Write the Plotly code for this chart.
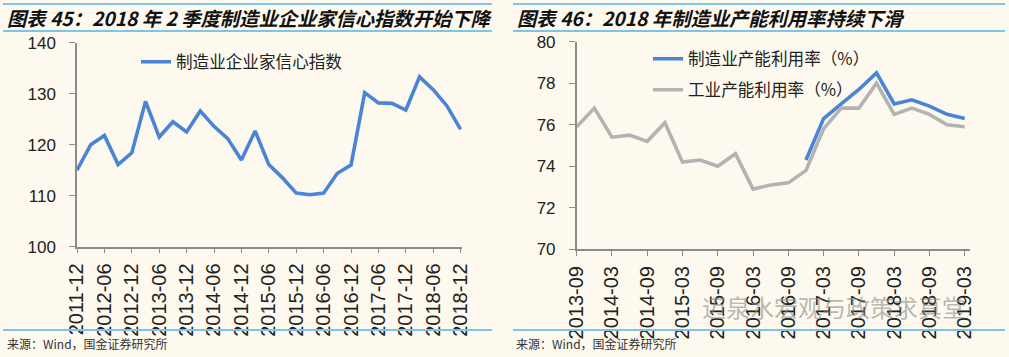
import plotly.graph_objects as go

# ---------------- data ----------------
left_dates = ["2011-12", "2012-03", "2012-06", "2012-09", "2012-12", "2013-03", "2013-06", "2013-09",
              "2013-12", "2014-03", "2014-06", "2014-09", "2014-12", "2015-03", "2015-06", "2015-09",
              "2015-12", "2016-03", "2016-06", "2016-09", "2016-12", "2017-03", "2017-06", "2017-09",
              "2017-12", "2018-03", "2018-06", "2018-09", "2018-12"]
confidence = [115.0, 120.0, 121.8, 116.1, 118.4, 128.5, 121.5, 124.5,
              122.5, 126.6, 123.6, 121.2, 117.0, 122.7, 116.1, 113.5,
              110.5, 110.2, 110.5, 114.4, 116.0, 130.2, 128.2, 128.1,
              126.8, 133.3, 130.8, 127.6, 123.0]
left_ticks = left_dates[::2]

right_dates = ["2013-09", "2013-12", "2014-03", "2014-06", "2014-09", "2014-12", "2015-03", "2015-06",
               "2015-09", "2015-12", "2016-03", "2016-06", "2016-09", "2016-12", "2017-03", "2017-06",
               "2017-09", "2017-12", "2018-03", "2018-06", "2018-09", "2018-12", "2019-03"]
manuf_util = [None, None, None, None, None, None, None, None,
              None, None, None, None, None, 74.3, 76.3, 77.0,
              77.7, 78.5, 77.0, 77.2, 76.9, 76.5, 76.3]
indus_util = [75.9, 76.8, 75.4, 75.5, 75.2, 76.1, 74.2, 74.3,
              74.0, 74.6, 72.9, 73.1, 73.2, 73.8, 75.8, 76.8,
              76.8, 78.0, 76.5, 76.8, 76.5, 76.0, 75.9]
right_ticks = right_dates[::2]

title_left = "图表 45：2018 年 2 季度制造业企业家信心指数开始下降"
title_right = "图表 46：2018 年制造业产能利用率持续下滑"
source_text = "来源：Wind，国金证券研究所"
watermark = "迈泉水宏观与政策求真堂"

# ---------------- style ----------------
W, H = 1009, 357
BG = "#FDF9EE"
BLUE = "#4A84D6"
GRAY = "#B3B3B3"
RULE = "#7EC3E8"
AXIS = "#8C8C8C"
FONT = "Liberation Sans, Arial, Noto Sans CJK SC"
CJK = "Noto Sans CJK SC"


def px(x):
    return x / W


def py(y):
    return 1 - y / H


fig = go.Figure()

fig.add_trace(go.Scatter(x=left_dates, y=confidence, mode="lines", name="制造业企业家信心指数",
                         line=dict(color=BLUE, width=3.6), xaxis="x", yaxis="y", legend="legend"))
fig.add_trace(go.Scatter(x=right_dates, y=manuf_util, mode="lines", name="制造业产能利用率（%）",
                         line=dict(color=BLUE, width=3.6), xaxis="x2", yaxis="y2", legend="legend2",
                         connectgaps=False))
fig.add_trace(go.Scatter(x=right_dates, y=indus_util, mode="lines", name="工业产能利用率（%）",
                         line=dict(color=GRAY, width=3.6), xaxis="x2", yaxis="y2", legend="legend3"))

common_x = dict(type="category", showgrid=False, zeroline=False, showline=True, linecolor=AXIS,
                linewidth=1.5, ticks="outside", ticklen=5, tickcolor=AXIS, tickangle=-90,
                automargin=False, ticklabelstandoff=2,
                tickfont=dict(family=FONT, size=20, color="#222"))
common_y = dict(showgrid=False, zeroline=False, showline=True, linecolor=AXIS, linewidth=1.5,
                ticks="outside", ticklen=6, tickcolor=AXIS, ticklabelstandoff=10, automargin=False,
                tickfont=dict(family=FONT, size=17, color="#222"))

legend_common = dict(xanchor="left", yanchor="middle", bgcolor="rgba(0,0,0,0)",
                     font=dict(family=CJK, size=16.6, color="#222"), itemwidth=30)

fig.update_layout(
    width=W, height=H, paper_bgcolor=BG, plot_bgcolor=BG,
    margin=dict(l=0, r=0, t=0, b=0, autoexpand=False),
    xaxis=dict(common_x, domain=[px(77), px(462)], range=[0, len(left_dates) - 0.9],
               tickvals=left_ticks, ticktext=left_ticks, anchor="y"),
    yaxis=dict(common_y, domain=[py(246.7), py(42.7)], range=[100, 140], dtick=10, anchor="x"),
    xaxis2=dict(common_x, domain=[px(576.7), px(970)], range=[0, len(right_dates) - 0.7],
                tickvals=right_ticks, ticktext=right_ticks, anchor="y2"),
    yaxis2=dict(common_y, domain=[py(249.3), py(41.7)], range=[70, 80], dtick=2, anchor="x2"),
    legend=dict(legend_common, x=px(136), y=py(62)),
    legend2=dict(legend_common, x=px(648), y=py(59)),
    legend3=dict(legend_common, x=px(648), y=py(90)),
    showlegend=True,
)

shapes = []
for x0, x1 in [(3, 492), (513, 1005)]:
    for y in (4, 31, 330):
        shapes.append(dict(type="line", xref="paper", yref="paper", x0=px(x0), x1=px(x1),
                           y0=py(y), y1=py(y), line=dict(color=RULE, width=2)))
fig.update_layout(shapes=shapes)

ann = []
for x, t in [(5, title_left), (515, title_right)]:
    ann.append(dict(text=f"<b><i>{t}</i></b>", xref="paper", yref="paper", x=px(x), y=py(18),
                    xanchor="left", yanchor="middle", showarrow=False,
                    font=dict(family=CJK, size=19.3, color="#111")))
for x in (5, 514):
    ann.append(dict(text=source_text, xref="paper", yref="paper", x=px(x), y=py(343),
                    xanchor="left", yanchor="middle", showarrow=False,
                    font=dict(family="Noto Sans CJK SC", size=12, color="#333")))
ann.append(dict(text=watermark, xref="paper", yref="paper", x=px(700), y=py(306),
                xanchor="left", yanchor="middle", showarrow=False,
                font=dict(family=CJK, size=24, color="rgba(140,140,140,0.6)")))
fig.update_layout(annotations=ann)

fig.write_html("out.html", config={"displayModeBar": False},
               post_script="document.body.style.margin='0';document.body.style.overflow='hidden';")
